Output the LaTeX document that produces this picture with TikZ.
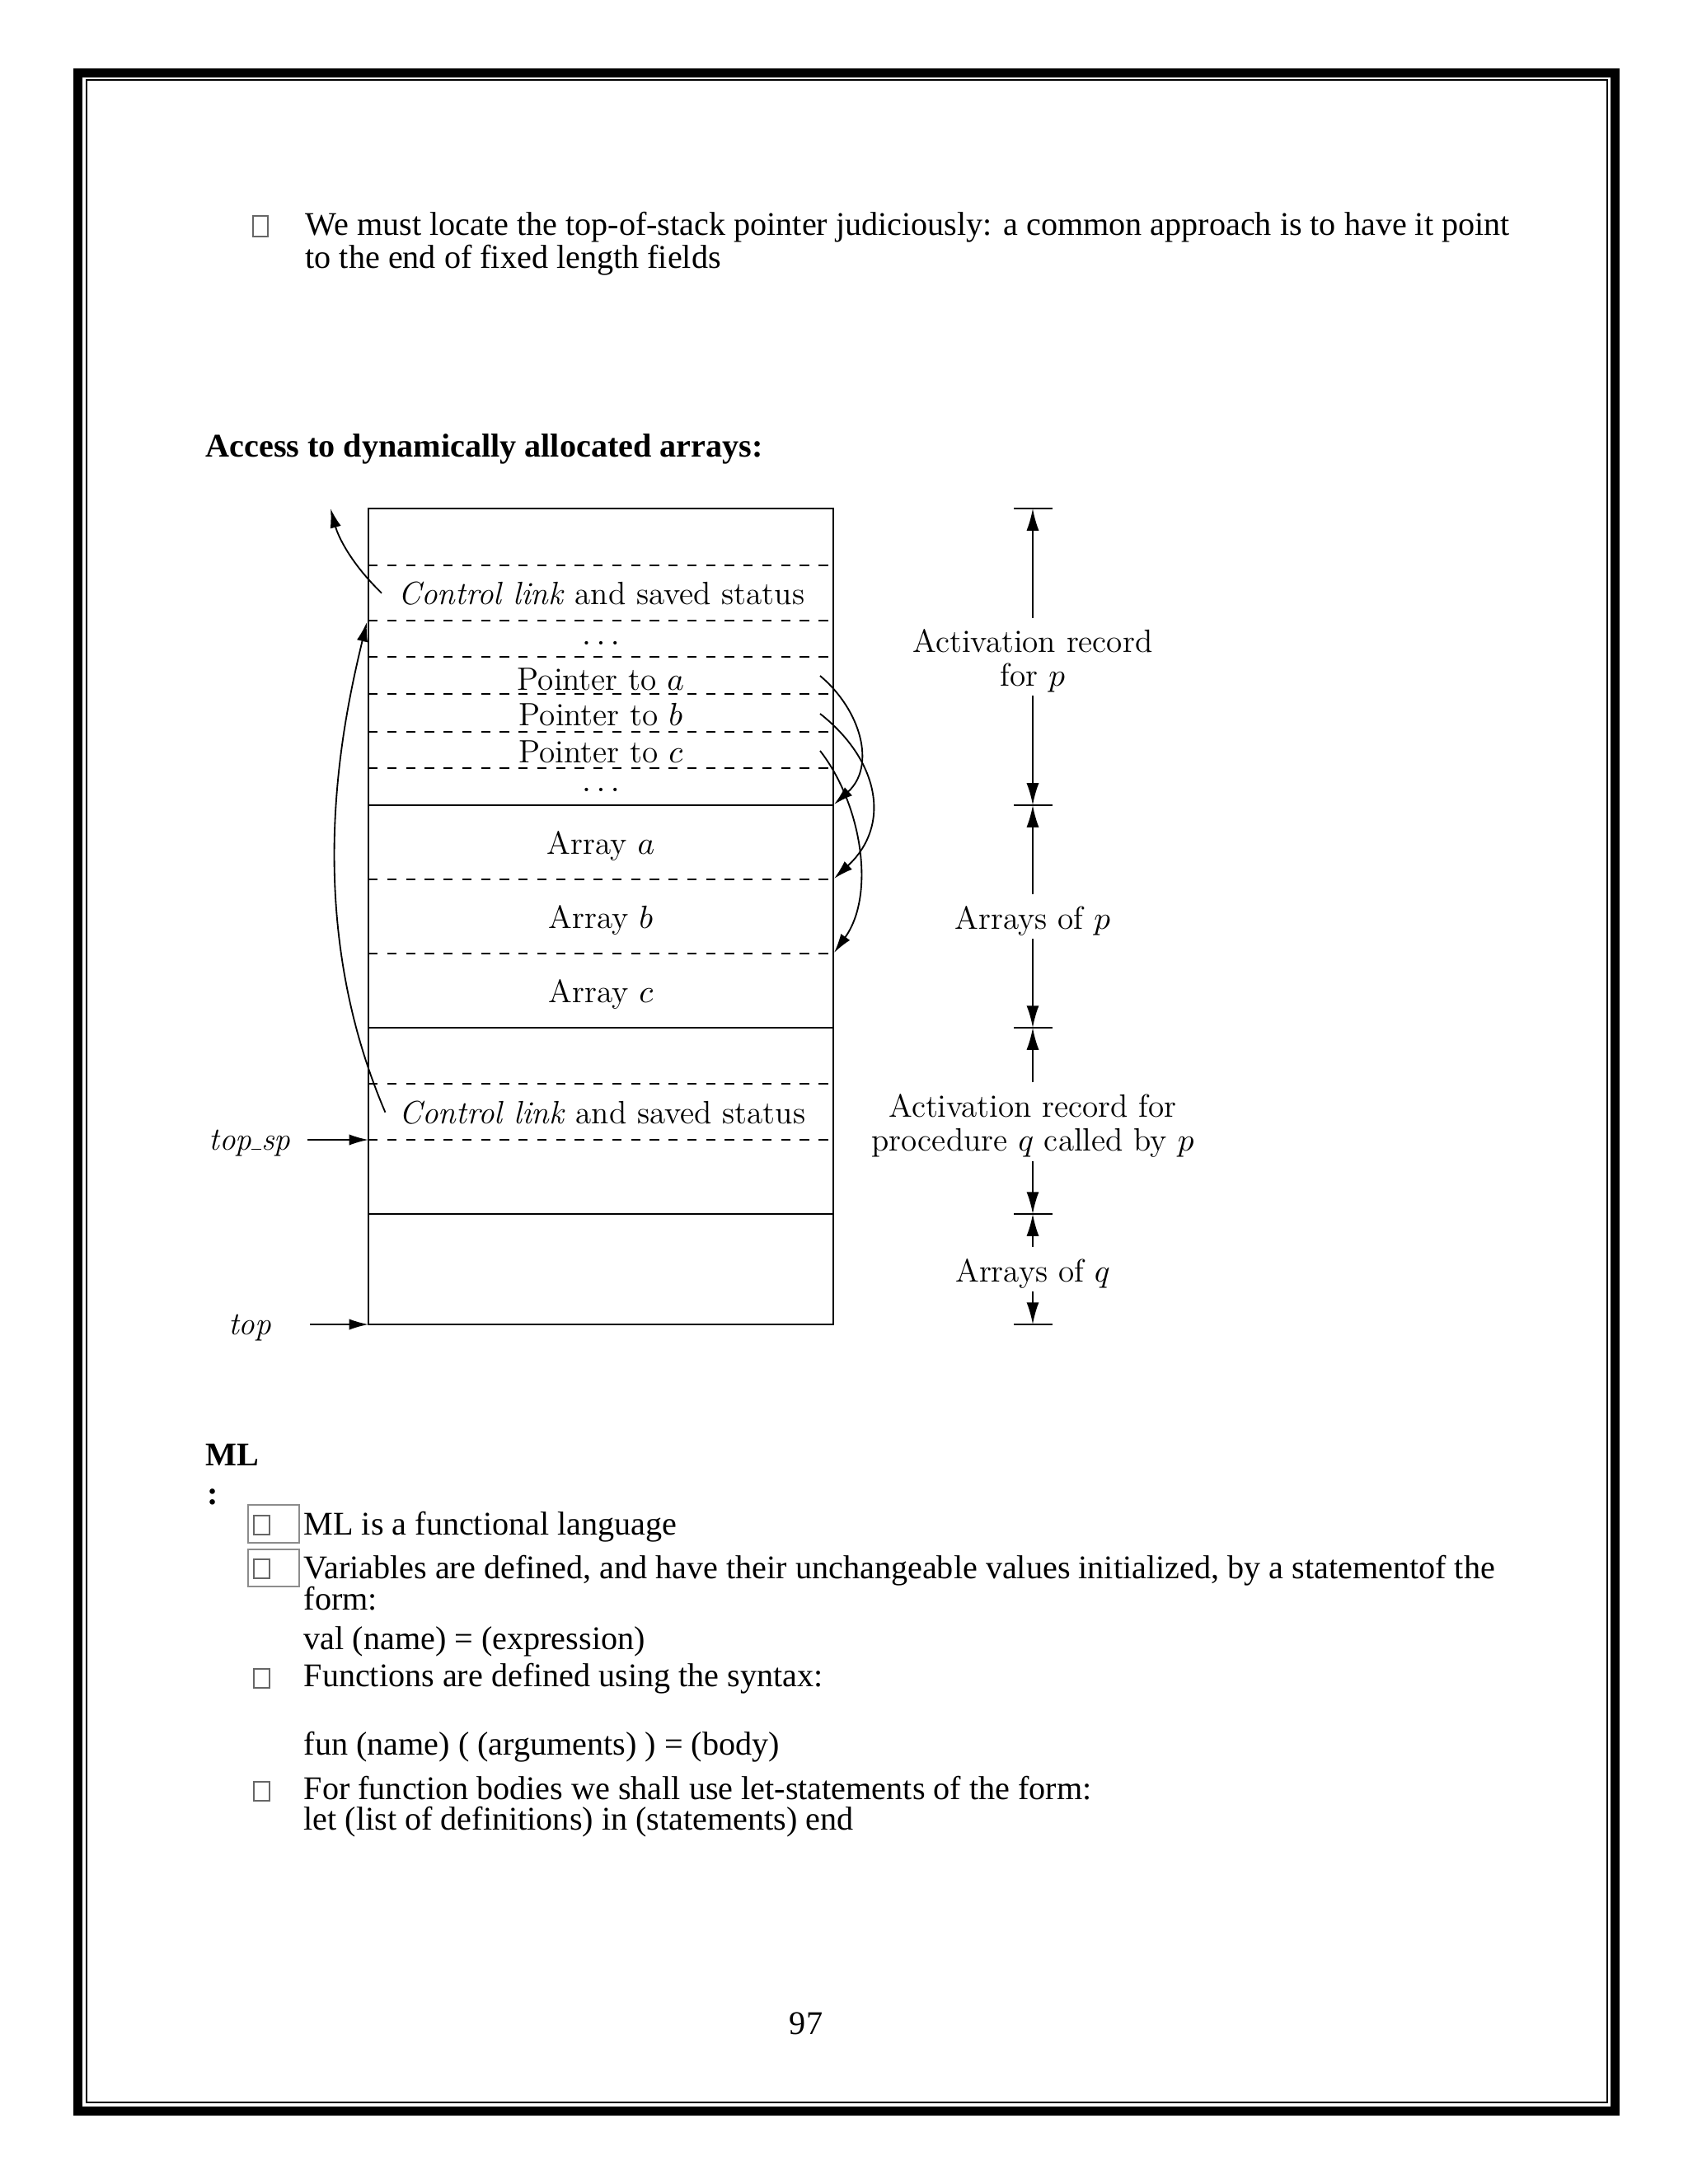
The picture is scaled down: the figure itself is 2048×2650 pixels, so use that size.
\documentclass[tikz,border=0pt]{standalone}
\usepackage{fix-cm}
\usepackage{fontspec}
\usepackage{tikz}
\usetikzlibrary{arrows.meta,positioning}
\newfontfamily\timesfont{Liberation Serif}

\begin{document}
\begin{tikzpicture}[
        x=0.29883pt, y=-0.29883pt,
        txt/.style={anchor=base west, inner sep=0pt, font=\timesfont\fontsize{12}{14}\selectfont},
        head/.style={txt, font=\timesfont\bfseries\fontsize{12}{14}\selectfont},
        tofu/.style={draw=black!60, line width=0.5pt},
        field/.style={draw=black!45, line width=0.5pt},
        lbl/.style={inner sep=0pt, font=\fontsize{11.7}{12.3}\selectfont},
        solidline/.style={line width=0.85pt},
        dashline/.style={line width=0.75pt, dash pattern=on 3.4pt off 3.4pt},
        ptr/.style={-{Latex[length=7pt,width=4pt]}, line width=0.55pt},
        dim/.style={-{Latex[length=8pt,width=4.5pt]}, line width=0.6pt}
    ]
    \useasboundingbox (0,0) rectangle (2048,2650);
    % page frame
    \draw[line width=3.29pt] (94.5,88.5) rectangle (1959.5,2561.5);
    \draw[line width=0.6pt] (105,97) rectangle (1950,2551);

    \draw[tofu] (307,262) rectangle (325,287);
    \node[txt] (note1) at (370,285) {We must locate the top-of-stack pointer judiciously: a common approach is to have it point};
    \node[txt] (note2) at (370,325) {to the end of fixed length fields};
    \node[head] (access) at (249,554) {Access to dynamically allocated arrays:};

    % the stack
    \draw[solidline] (447,617) rectangle (1011,1607);
    \foreach \y in {977,1247,1473} \draw[solidline] (447,\y) -- (1011,\y);
    \foreach \y in {686,753,797,842,888,932,1067,1157,1315,1383} \draw[dashline] (447,\y) -- (1011,\y);

    \node[lbl, anchor=base] (ctlp) at (730,733) {\textit{Control link} and saved status};
    \node[lbl, anchor=base] (dots1) at (729,782) {$\ldots$};
    \node[lbl, anchor=base] (pa) at (729,837) {Pointer to $a$};
    \node[lbl, anchor=base] (pb) at (729,880) {Pointer to $b$};
    \node[lbl, anchor=base] (pc) at (729,925) {Pointer to $c$};
    \node[lbl, anchor=base] (dots2) at (729,960) {$\ldots$};
    \node[lbl, anchor=base] (arraya) at (729,1036) {Array $a$};
    \node[lbl, anchor=base] (arrayb) at (729,1126) {Array $b$};
    \node[lbl, anchor=base] (arrayc) at (729,1216) {Array $c$};
    \node[lbl, anchor=base] (ctlq) at (731,1363) {\textit{Control link} and saved status};

    \node[lbl, anchor=base] (topsp) at (303,1395) {\textit{top}\rule{0.3em}{0.45pt}\textit{sp}};
    \node[lbl, anchor=base] (toplbl) at (303,1619) {\textit{top}};

    \coordinate (up) at (401,617);
    \coordinate (clp) at (445,755);
    \coordinate (fa) at (995,820);
    \coordinate (fb) at (995,866);
    \coordinate (fc) at (995,911);
    \coordinate (ta) at (1012,976);
    \coordinate (tb) at (1012,1066);
    \coordinate (tc) at (1012,1156);
    \coordinate (tsp) at (447,1383);
    \coordinate (tp) at (447,1607);

    \draw[ptr] ([xshift=-6pt]ctlp.west) .. controls (425,683) and (410,650) .. (up);
    \draw[ptr] ([xshift=-5pt]ctlq.west) .. controls (365,1110) and (415,880) .. (clp);
    \draw[ptr] (fa) .. controls (1045,862) and (1063,930) .. (ta);
    \draw[ptr] (fb) .. controls (1065,921) and (1083,1000) .. (tb);
    \draw[ptr] (fc) .. controls (1045,975) and (1063,1085) .. (tc);
    \draw[ptr, shorten <=6pt] (topsp.east |- tsp) -- (tsp);
    \draw[ptr, shorten <=14pt] (toplbl.east |- tp) -- (tp);

    % sizes on the right
    \foreach \y in {617,977,1247,1473,1607} \draw[line width=0.6pt] (1230,\y) -- (1277,\y);
    \coordinate (d1) at (1253,617);
    \coordinate (d2) at (1253,977);
    \coordinate (d3) at (1253,1247);
    \coordinate (d4) at (1253,1473);
    \coordinate (d5) at (1253,1607);
    \node[lbl, align=center] (recp) at (1253,802) {Activation record\\for $p$};
    \node[lbl, anchor=base] (arrp) at (1253,1127) {Arrays of $p$};
    \node[lbl, align=center] (recq) at (1253,1366) {Activation record for\\procedure $q$ called by $p$};
    \node[lbl, anchor=base] (arrq) at (1253,1555) {Arrays of $q$};
    \draw[dim, shorten <=4pt] (recp.north) -- (d1);
    \draw[dim, shorten <=1pt] (recp.south) -- (d2);
    \draw[dim, shorten <=4pt] (arrp.north) -- (d2);
    \draw[dim, shorten <=1pt] (arrp.south) -- (d3);
    \draw[dim, shorten <=4pt] (recq.north) -- (d3);
    \draw[dim, shorten <=1pt] (recq.south) -- (d4);
    \draw[dim, shorten <=4pt] (arrq.north) -- (d4);
    \draw[dim, shorten <=1pt] (arrq.south) -- (d5);

    % ML
    \node[head] (ml) at (249,1778) {ML};
    \node[head] (colon) at (251,1825) {:};
    \draw[field] (301,1826) rectangle (363,1872);
    \draw[tofu] (308,1839) rectangle (327,1862);
    \node[txt] (ml1) at (368,1862) {ML is a functional language};
    \draw[field] (301,1880) rectangle (363,1925);
    \draw[tofu] (308,1892) rectangle (327,1915);
    \node[txt] (ml2) at (368,1915) {Variables are defined, and have their unchangeable values initialized, by a statementof the};
    \node[txt] (ml2b) at (368,1953) {form:};
    \node[txt] (ml2c) at (368,2001) {val (name) = (expression)};
    \draw[tofu] (308,2025) rectangle (327,2048);
    \node[txt] (ml3) at (368,2046) {Functions are defined using the syntax:};
    \node[txt] (ml3b) at (368,2129) {fun (name) ( (arguments) ) = (body)};
    \draw[tofu] (308,2162) rectangle (327,2185);
    \node[txt] (ml4) at (368,2183) {For function bodies we shall use let-statements of the form:};
    \node[txt] (ml4b) at (368,2220) {let (list of definitions) in (statements) end};
    \node[txt, anchor=base] (pageno) at (978,2468) {97};
\end{tikzpicture}
\end{document}
